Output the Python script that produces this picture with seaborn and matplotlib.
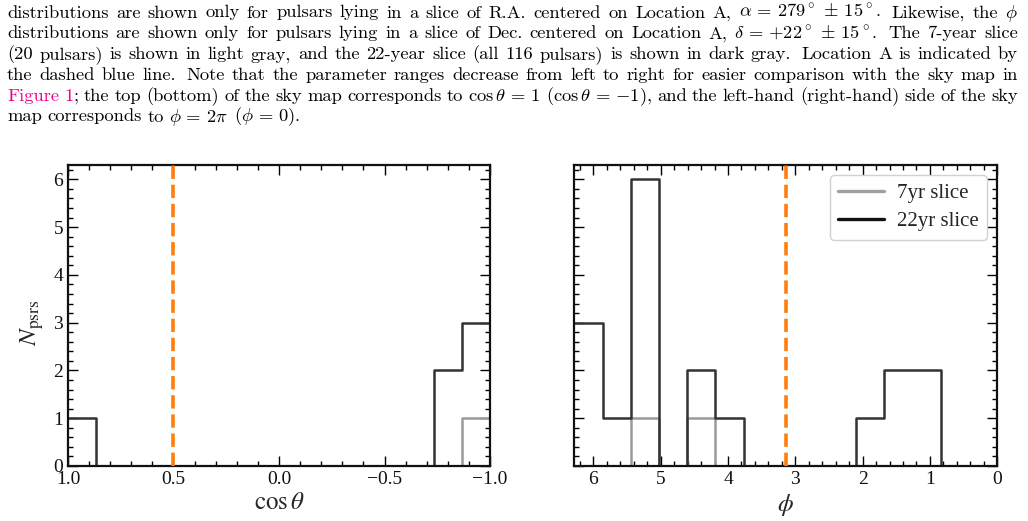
import numpy as np
import pandas as pd
import matplotlib
matplotlib.use('Agg')
import matplotlib.pyplot as plt
from matplotlib.lines import Line2D
from matplotlib.font_manager import FontProperties
from matplotlib.ticker import MultipleLocator
import seaborn as sns

# 15 equal bins per panel, counts listed from the lowest value upwards
COSTHETA_RANGE = (-1.0, 1.0)
PHI_RANGE = (0.0, 2 * np.pi)
N_BINS = 15

COSTHETA_7YR = [1, 0, 0, 0, 0, 0, 0, 0, 0, 0, 0, 0, 0, 0, 0]
COSTHETA_22YR = [3, 2, 0, 0, 0, 0, 0, 0, 0, 0, 0, 0, 0, 0, 1]
PHI_7YR = [0, 0, 0, 0, 0, 0, 0, 0, 0, 0, 1, 0, 1, 0, 0]
PHI_22YR = [0, 0, 2, 2, 1, 0, 0, 0, 0, 1, 2, 0, 6, 1, 3]

LOC_A_COSTHETA = 0.5
LOC_A_PHI = np.pi

SERIES_LABELS = ['7yr slice', '22yr slice']

CAPTION_LINES = [
    r"distributions are shown only for pulsars lying in a slice of R.A. centered on Location A, $\alpha\,=\,279^\circ\,\pm\,15^\circ$.  Likewise, the $\phi$",
    r"distributions are shown only for pulsars lying in a slice of Dec. centered on Location A, $\delta\,=\,{+}22^\circ\,\pm\,15^\circ$.  The 7-year slice",
    r"(20 pulsars) is shown in light gray, and the 22-year slice (all 116 pulsars) is shown in dark gray. Location A is indicated by",
    r"the dashed blue line. Note that the parameter ranges decrease from left to right for easier comparison with the sky map in",
    r"Figure 1; the top (bottom) of the sky map corresponds to $\cos\theta\,=\,1$ ($\cos\theta\,=\,{-}1$), and the left-hand (right-hand) side of the sky",
    r"map corresponds to $\phi\,=\,2\pi$ ($\phi\,=\,0$).",
]
LINK_COLOR = '#ec008c'

sns.set_theme(style='ticks')
plt.rcParams['font.family'] = ['serif']
plt.rcParams['font.serif'] = ['Liberation Serif', 'DejaVu Serif']
plt.rcParams['mathtext.fontset'] = 'stix'

C7 = '#9a9a9a'
C22 = '#333333'


def split_words(line):
    """Split on spaces, keeping $...$ chunks together."""
    words, cur, in_math = [], '', False
    for ch in line:
        if ch == '$':
            in_math = not in_math
        if ch == ' ' and not in_math:
            if cur:
                words.append(cur)
                cur = ''
        else:
            cur += ch
    if cur:
        words.append(cur)
    return words


def word_segments(word):
    if word == 'Figure':
        return [(word, LINK_COLOR)]
    if word == '1;':
        return [('1', LINK_COLOR), (';', 'black')]
    return [(word, 'black')]


def draw_caption(fig):
    fp = FontProperties(family=['cmr10', 'DejaVu Serif'], size=13.3, math_fontfamily='cm')
    W, H = fig.get_size_inches() * fig.dpi
    renderer = fig.canvas.get_renderer()
    x0, x1 = 7.0, 1018.0
    for i, line in enumerate(CAPTION_LINES):
        y = 1 - (17.5 + i * 20.8) / H
        raw = split_words(line)
        words = []
        for w in raw:
            segs = []
            for s, c in word_segments(w):
                t = fig.text(0, y, s, color=c, fontproperties=fp, va='baseline', ha='left')
                segs.append(t)
            words.append(segs)
        widths = [[t.get_window_extent(renderer).width for t in segs] for segs in words]
        total = sum(sum(w) for w in widths)
        # sentence ends get a wider gap, as TeX does
        weights = [1.5 if raw[k].endswith('.') and raw[k + 1][0].isupper() else 1.0
                   for k in range(len(raw) - 1)]
        last = i == len(CAPTION_LINES) - 1
        unit = 5.5 if last else (x1 - x0 - total) / sum(weights)
        x = x0
        for k, (segs, ws) in enumerate(zip(words, widths)):
            for t, w in zip(segs, ws):
                t.set_x(x / W)
                x += w
            if k < len(weights):
                x += unit * weights[k]


def plot_panel(ax, counts7, counts22, rng, loc):
    width = (rng[1] - rng[0]) / N_BINS
    centers = rng[0] + width * (np.arange(N_BINS) + 0.5)
    df = pd.DataFrame({'value': centers, 'n7': counts7, 'n22': counts22})
    sns.histplot(data=df, x='value', weights='n7', bins=N_BINS, binrange=rng,
                 element='step', fill=False, color=C7, linewidth=1.8, ax=ax)
    sns.histplot(data=df, x='value', weights='n22', bins=N_BINS, binrange=rng,
                 element='step', fill=False, color=C22, linewidth=1.8, ax=ax)
    ax.axvline(loc, color='#ff7f0e', linestyle='--', linewidth=2.6, zorder=3)
    ax.set_xlim(rng[1], rng[0])
    ax.set_ylim(0, 6.3)
    ax.yaxis.set_major_locator(MultipleLocator(1))
    ax.yaxis.set_minor_locator(MultipleLocator(0.2))
    ax.tick_params(which='both', direction='in', top=True, right=True,
                   width=1.0, color='black', labelsize=14, labelcolor='#111111')
    ax.tick_params(which='major', length=7)
    ax.tick_params(which='minor', length=3.5)
    for sp in ax.spines.values():
        sp.set_linewidth(1.6)
        sp.set_color('#111111')
    ax.set_ylabel('')


fig = plt.figure(figsize=(10.28, 5.21), dpi=100)
ax1 = fig.add_axes([0.0661, 0.1056, 0.4106, 0.5777])
ax2 = fig.add_axes([0.5587, 0.1056, 0.4114, 0.5777])

plot_panel(ax1, COSTHETA_7YR, COSTHETA_22YR, COSTHETA_RANGE, LOC_A_COSTHETA)
ax1.xaxis.set_major_locator(MultipleLocator(0.5))
ax1.xaxis.set_minor_locator(MultipleLocator(0.1))
ax1.set_xlabel(r'$\cos\theta$', fontsize=18, labelpad=3)
ax1.set_ylabel(r'$N_{\rm psrs}$', fontsize=18)
ax1.yaxis.set_label_coords(-0.052, 0.475)

plot_panel(ax2, PHI_7YR, PHI_22YR, PHI_RANGE, LOC_A_PHI)
ax2.xaxis.set_major_locator(MultipleLocator(1))
ax2.xaxis.set_minor_locator(MultipleLocator(0.2))
ax2.tick_params(labelleft=False)
ax2.set_xlabel(r'$\phi$', fontsize=18, labelpad=3)

handles = [Line2D([], [], color='#a0a0a0', lw=2.4), Line2D([], [], color='#111111', lw=2.4)]
ax2.legend(handles, SERIES_LABELS, loc='upper right', fontsize=15, handlelength=2.2,
           handletextpad=0.6, labelspacing=0.4, frameon=True, fancybox=True,
           edgecolor='#cccccc', framealpha=0.9)

draw_caption(fig)

fig.savefig('out.png', dpi=100)
